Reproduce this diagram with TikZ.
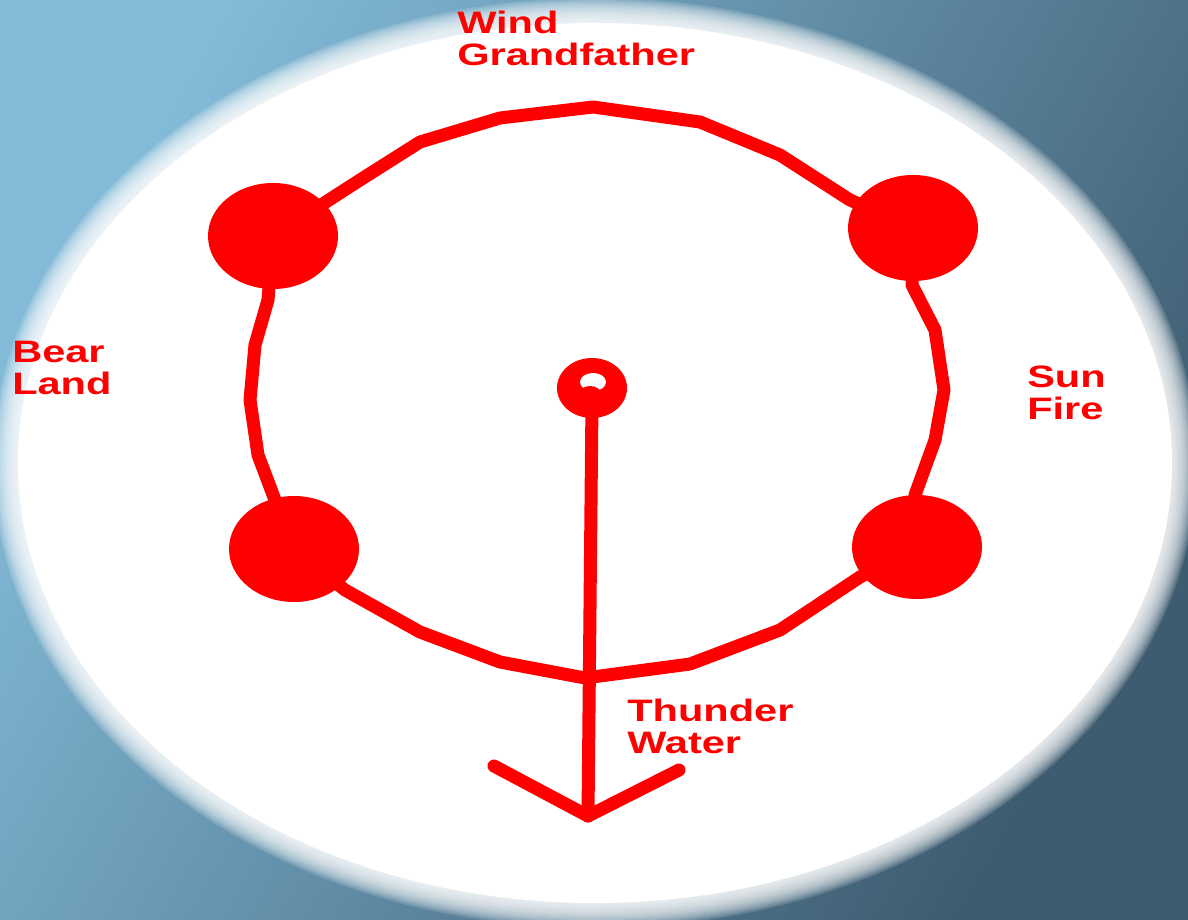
\documentclass[tikz,border=0pt]{standalone}
\usepackage{fontspec}
\setmainfont{Liberation Sans}
\definecolor{bgA}{RGB}{130,186,216}
\definecolor{bgM}{RGB}{85,125,150}
\definecolor{bgB}{RGB}{62,92,112}
\definecolor{pred}{RGB}{255,0,0}
\tikzset{
  ring/.style={draw=pred, line width=13pt, line join=round, line cap=round},
  dot/.style={fill=pred},
  lbl/.style={text=pred, font=\fontsize{31}{32}\selectfont\bfseries, align=left, inner sep=0pt, xscale=1.34, anchor=north west}
}
\begin{document}
\begin{tikzpicture}[x=1pt,y=-1pt]
\useasboundingbox (0,0) rectangle (1188,920);
\shade[left color=bgA, middle color=bgM, right color=bgB, shading angle=60] (0,0) rectangle (1188,920);
% soft white ellipse
\foreach \i in {0,...,12} {
  \fill[white, opacity=0.15] (595,463) ellipse ({602-2*\i} and {465-2*\i});
}
\fill[white] (595,463) ellipse (577 and 440);
% main ring
\coordinate (top) at (593,107);
\path (273,236) coordinate (tl) (913,228) coordinate (tr) (294,549) coordinate (bl) (917,547) coordinate (br);
\draw[ring] (top) -- (500,118) -- (420,142) -- (360,180) -- (tl)
  -- (268,300) -- (255,345) -- (250,400) -- (258,455) -- (275,500) -- (bl)
  -- (345,590) -- (420,632) -- (500,662) -- (585,678) -- (690,664) -- (780,630) -- (860,577) -- (br)
  -- (915,495) -- (935,440) -- (944,390) -- (935,330) -- (912,285) -- (tr)
  -- (850,200) -- (780,155) -- (700,122) -- cycle;
\fill[dot] (tl) ellipse (65 and 53);
\fill[dot] (tr) ellipse (65 and 53);
\fill[dot] (bl) ellipse (65 and 53);
\fill[dot] (br) ellipse (65 and 52);
% center ring and stem
\coordinate (c) at (592,388);
\coordinate (stemtop) at (592,400);
\coordinate (tip) at (588,816);
\coordinate (armL) at (494,766);
\coordinate (armR) at (679,770);
\fill[pred] (c) ellipse (35 and 30);
\fill[white] (593,382) ellipse (13 and 9);
\fill[pred] (590,395) ellipse (12 and 9);
\draw[ring] (stemtop) -- (tip);
\draw[ring] (armL) -- (tip) -- (armR);
% labels
\node[lbl] (wind) at (457,11) {Wind\\Grandfather};
\node[lbl] (bear) at (12,341) {Bear\\Land};
\node[lbl] (sun) at (1027,366) {Sun\\Fire};
\node[lbl] (thunder) at (627,699) {Thunder\\Water};
\end{tikzpicture}
\end{document}
